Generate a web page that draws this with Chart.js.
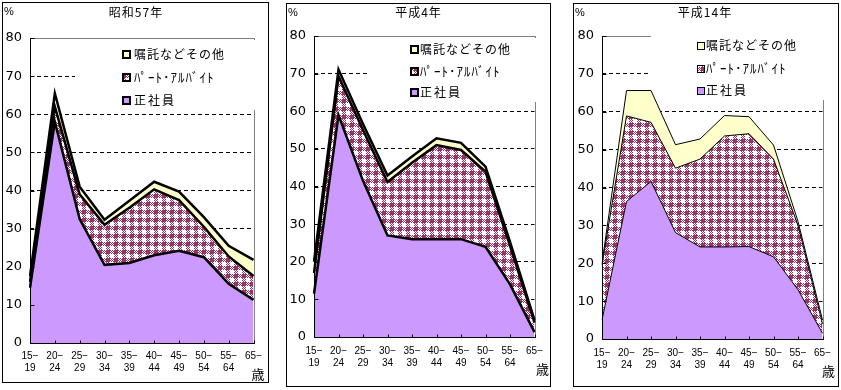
<!DOCTYPE html>
<html><head><meta charset="utf-8">
<script src="https://cdn.jsdelivr.net/npm/chart.js@4.4.0/dist/chart.umd.min.js"></script>
<style>
html,body{margin:0;padding:0;background:#fff;width:841px;height:390px;overflow:hidden;}
canvas{position:absolute;}
</style></head><body>
<canvas id="c1"></canvas><canvas id="c2"></canvas><canvas id="c3"></canvas>
<script>
// ---- data ----
const tickLabels = [['15−','19'],['20−','24'],['25−','29'],['30−','34'],['35−','39'],['40−','44'],['45−','49'],['50−','54'],['55−','64'],['65−','']];
const yTicks = [0,10,20,30,40,50,60,70,80];
const seriesNames = ['正社員','ﾊﾟｰﾄ･ｱﾙﾊﾞｲﾄ','嘱託などその他'];
const panelTitles = ['昭和57年','平成4年','平成14年'];
const unitLabel = '%';
const ageLabel = '歳';

const s57Regular = [14.5, 58.0, 32.5, 20.5, 21.0, 23.0, 24.2, 22.5, 15.5, 11.3];
const s57Part    = [1.5, 4.0, 6.5, 10.5, 14.5, 17.3, 13.3, 8.0, 7.2, 6.3];
const s57Other   = [1.5, 3.5, 2.0, 1.3, 1.8, 2.0, 2.2, 2.5, 2.8, 4.2];

const h4Regular = [11.5, 59.0, 41.5, 27.0, 26.0, 26.0, 26.0, 24.0, 14.0, 1.3];
const h4Part    = [5.5, 10.3, 13.5, 14.2, 20.3, 25.0, 23.7, 19.9, 10.2, 2.5];
const h4Other   = [3.0, 1.8, 1.6, 1.7, 1.7, 1.8, 1.9, 1.4, 1.1, 0.7];

const h14Regular = [5.0, 36.3, 41.6, 28.1, 24.3, 24.3, 24.4, 21.7, 13.0, 1.5];
const h14Part    = [14.5, 22.6, 15.6, 17.0, 23.2, 29.3, 29.8, 25.8, 17.0, 2.5];
const h14Other   = [0.5, 6.7, 8.4, 6.2, 5.3, 5.4, 4.5, 3.7, 1.0, 1.0];

// ---- layout ----
const panels = [
  {id:'c1', L:2, T:2, W:267, H:381, plot:{l:28, r:253, t:36, b:341}, xPad:7, bw:2.5, mbw:2,
   leg:{x:73,y:38,w:193,h:70, mx:121, rows:[52,75,98], tx:132}, title:{x:134,y:10}, pct:{x:2,y:10}, sai:{x:256,y:372},
   title_i:0, data:[s57Regular, s57Part, s57Other]},
  {id:'c2', L:286, T:3, W:265, H:384, plot:{l:28, r:249, t:33, b:334}, xPad:8, bw:2.5, mbw:2,
   leg:{x:84,y:35,w:180,h:64, mx:125, rows:[46.3,68,89.7], tx:134}, title:{x:132.5,y:9.5}, pct:{x:2,y:10}, sai:{x:256.5,y:366},
   title_i:1, data:[h4Regular, h4Part, h4Other]},
  {id:'c3', L:573, T:3, W:266, H:384, plot:{l:29, r:251, t:33, b:336}, xPad:8, bw:1, mbw:1,
   leg:{x:78,y:27,w:187,h:70, mx:124, rows:[42,65.3,87.7], tx:133}, title:{x:132,y:9}, pct:{x:2,y:10}, sai:{x:255.5,y:368},
   title_i:2, data:[h14Regular, h14Part, h14Other]}
];

const PURPLE = '#CC99FF', MAROON = '#993366', YELLOW = '#FFFFCC';
const CJK = '"Noto Sans CJK JP", sans-serif';

function makePattern(ctx){
  const c = document.createElement('canvas'); c.width = 8; c.height = 8;
  const x = c.getContext('2d');
  x.fillStyle = '#fff'; x.fillRect(0,0,8,8);
  x.fillStyle = MAROON; x.fillRect(0,0,4,4);
  for (let i=0;i<8;i++) for (let j=0;j<8;j++){
    if (((i<4)!==(j<4)) && ((i+j)%2===0)) x.fillRect(i,j,1,1);
  }
  return ctx.createPattern(c,'repeat');
}

function makeDecor(p, pattern){
  return {
    id:'decor',
    beforeDatasetsDraw(chart){
      const ctx = chart.ctx, a = chart.chartArea;
      ctx.save();
      ctx.strokeStyle = '#808080'; ctx.lineWidth = 1;
      ctx.beginPath();
      ctx.moveTo(Math.round(a.left), Math.round(a.top)+0.5);
      ctx.lineTo(Math.round(a.right)+1, Math.round(a.top)+0.5);
      ctx.moveTo(Math.round(a.right)+0.5, Math.round(a.top));
      ctx.lineTo(Math.round(a.right)+0.5, Math.round(a.bottom));
      ctx.stroke();
      ctx.fillStyle = '#fff';
      ctx.fillRect(p.leg.x, p.leg.y, p.leg.w, p.leg.h);
      ctx.restore();
    },
    afterDatasetsDraw(chart){
      const ctx = chart.ctx, a = chart.chartArea;
      const xs = chart.scales.x, ys = chart.scales.y;
      ctx.save();
      ctx.strokeStyle = '#000'; ctx.lineWidth = 1;
      const L = Math.round(a.left)+0.5, B = Math.round(a.bottom)+0.5;
      ctx.beginPath();
      ctx.moveTo(L, Math.round(a.top)); ctx.lineTo(L, B);
      ctx.moveTo(L, B); ctx.lineTo(Math.round(a.right)+1, B);
      ys.ticks.forEach(t => {
        const y = Math.round(ys.getPixelForValue(t.value))+0.5;
        ctx.moveTo(L, y); ctx.lineTo(L+4, y);
      });
      tickLabels.forEach((_, i) => {
        const x = Math.round(xs.getPixelForValue(i))+0.5;
        ctx.moveTo(x, B); ctx.lineTo(x, B-3);
      });
      ctx.stroke();
      ctx.restore();
    },
    afterDraw(chart){
      const ctx = chart.ctx;
      ctx.save();
      ctx.strokeStyle = '#000'; ctx.lineWidth = 1;
      ctx.strokeRect(0.5, 0.5, p.W-1, p.H-1);
      ctx.fillStyle = '#000';
      ctx.textBaseline = 'middle';
      // title
      ctx.font = '12px ' + CJK; ctx.textAlign = 'center';
      ctx.letterSpacing = '1px';
      ctx.fillText(panelTitles[p.title_i], p.title.x, p.title.y);
      ctx.letterSpacing = '0px';
      // unit
      ctx.font = '11px "Liberation Sans", sans-serif'; ctx.textAlign = 'left';
      ctx.fillText(unitLabel, p.pct.x, p.pct.y);
      // age
      ctx.font = '13px ' + CJK; ctx.textAlign = 'center';
      ctx.fillText(ageLabel, p.sai.x, p.sai.y);
      // legend
      const fills = [YELLOW, pattern, PURPLE];
      const names = [seriesNames[2], seriesNames[1], seriesNames[0]];
      const spacing = ['1px', '1px', '2px'];
      const sizes = [12, 13, 12];
      ctx.textAlign = 'left';
      for (let k=0;k<3;k++){
        const cy = p.leg.rows[k];
        const top = Math.round(cy - 3.5);
        ctx.fillStyle = fills[k];
        ctx.fillRect(p.leg.mx, top, 7, 7);
        ctx.lineWidth = p.mbw; ctx.strokeStyle = '#000';
        const o = p.mbw === 1 ? 0.5 : 0;
        ctx.strokeRect(p.leg.mx + o, top + o, 7, 7);
        ctx.fillStyle = '#000';
        ctx.font = sizes[k] + 'px ' + CJK;
        ctx.letterSpacing = spacing[k];
        ctx.fillText(names[k], p.leg.tx, cy);
        ctx.letterSpacing = '0px';
      }
      ctx.restore();
    }
  };
}

function build(p){
  const cv = document.getElementById(p.id);
  cv.width = p.W; cv.height = p.H;
  cv.style.left = p.L + 'px'; cv.style.top = p.T + 'px';
  const ctx = cv.getContext('2d');
  const pattern = makePattern(ctx);
  const [reg, part, oth] = p.data;
  const common = {borderColor:'#000', borderWidth:p.bw, pointRadius:0, tension:0, borderJoinStyle:'miter'};
  new Chart(ctx, {
    type:'line',
    data:{
      labels: tickLabels,
      datasets:[
        Object.assign({label:seriesNames[0], data:reg, backgroundColor:PURPLE, fill:'origin'}, common),
        Object.assign({label:seriesNames[1], data:part, backgroundColor:pattern, fill:'-1'}, common),
        Object.assign({label:seriesNames[2], data:oth, backgroundColor:YELLOW, fill:'-1'}, common)
      ]
    },
    options:{
      responsive:false, animation:false, devicePixelRatio:1,
      layout:{padding:{left:0, top:p.plot.t, right:p.W - p.plot.r, bottom:0}},
      plugins:{legend:{display:false}, title:{display:false}, tooltip:{enabled:false}},
      scales:{
        x:{
          type:'category', offset:false,
          grid:{display:false, drawTicks:false}, border:{display:false},
          ticks:{autoSkip:false, maxRotation:0, minRotation:0, padding:p.xPad, color:'#000',
                 font:{family:'"Liberation Sans", sans-serif', size:10}},
          afterFit(s){ s.height = p.H - p.plot.b; }
        },
        y:{
          stacked:true, min:0, max:80,
          afterBuildTicks(s){ s.ticks = yTicks.map(v => ({value:v})); },
          grid:{drawTicks:false, lineWidth:1,
                color: c => (c.tick && (c.tick.value === 0 || c.tick.value === 80)) ? 'rgba(0,0,0,0)' : '#000'},
          border:{display:false, dash:[4,3]},
          ticks:{padding:8, color:'#000', font:{family:'"DejaVu Sans", sans-serif', size:13}},
          afterFit(s){ s.width = p.plot.l; }
        }
      }
    },
    plugins:[makeDecor(p, pattern)]
  });
}

document.fonts.load('12px "Noto Sans CJK JP"', '嘱託正社員歳年').finally(() => panels.forEach(build));
</script>
</body></html>
